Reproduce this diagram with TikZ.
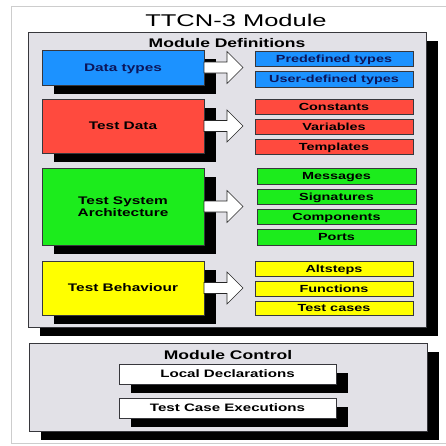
\documentclass[tikz,border=0pt]{standalone}
\usepackage{fontspec}
\setmainfont{Liberation Sans}
\newfontfamily\widesans[FakeStretch=1.4]{Liberation Sans}
\newfontfamily\titlesans[FakeStretch=1.5]{Liberation Sans}
\usetikzlibrary{shadows}

\definecolor{panelgray}{RGB}{226,225,231}
\definecolor{framegray}{RGB}{205,205,205}
\definecolor{dtblue}{RGB}{28,146,255}
\definecolor{navytext}{RGB}{12,22,90}
\definecolor{tdred}{RGB}{255,74,62}
\definecolor{tsagreen}{RGB}{28,236,28}
\definecolor{tbyellow}{RGB}{255,255,0}
\definecolor{edge}{RGB}{55,55,60}

\begin{document}
\begin{tikzpicture}[x=1pt,y=-1pt,
  blackshadow/.style={general shadow={fill=black, shadow xshift=#1, shadow yshift=-8.5pt}},
  blackshadow/.default=12pt,
  panel/.style={draw=edge, fill=panelgray, line width=0.6pt, anchor=north west,
    inner sep=0pt, outer sep=0pt, blackshadow},
  headfont/.style={font=\widesans\bfseries\fontsize{12.5}{14}\selectfont, inner sep=0pt,
    text height=9pt, text depth=0pt},
  mainbox/.style={draw=edge, line width=0.5pt, anchor=north west, minimum width=162pt,
    inner sep=0pt, outer sep=0pt, blackshadow, align=center,
    font=\widesans\bfseries\fontsize{11}{12.5}\selectfont},
  oneline/.style={text height=7.9pt, text depth=0pt},
  itembox/.style={draw=edge, line width=0.5pt, anchor=north west, minimum width=158pt,
    minimum height=15pt, inner sep=0pt, outer sep=0pt, text height=7.4pt, text depth=0pt,
    font=\widesans\bfseries\fontsize{10.3}{12}\selectfont},
  ctrlbox/.style={draw=edge, fill=white, line width=0.5pt, anchor=north west,
    minimum width=217pt, minimum height=20pt, inner sep=0pt, outer sep=0pt, blackshadow,
    text height=7.7pt, text depth=0pt,
    font=\widesans\bfseries\fontsize{10.8}{12}\selectfont},
  arrowshape/.style={draw=black!85, fill=white, line width=0.6pt, line join=miter}
]
\useasboundingbox (0,0) rectangle (446,445);
\fill[white] (0,0) rectangle (446,445);

% outer frame
\draw[framegray, line width=1pt] (460,6) -- (11,6) -- (11,443) -- (460,443);

% title
\node[font=\titlesans\fontsize{17}{19}\selectfont, inner sep=0pt, text height=12.2pt,
  text depth=0pt] (title) at (236,20) {TTCN-3 Module};

% module definitions panel
\node[panel, minimum width=398pt, minimum height=295pt] (defs) at (28,32) {};
\node[headfont] (defstitle) at (227,43) {Module Definitions};

% data types
\node[mainbox, oneline, fill=dtblue, text=navytext, minimum height=35pt] (dt) at (42,50) {Data types};
\node[itembox, fill=dtblue, text=navytext] (pre) at (255,51) {Predefined types};
\node[itembox, fill=dtblue, text=navytext, minimum height=16pt] (udt) at (255,71) {User-defined types};

% test data
\node[mainbox, oneline, fill=tdred, minimum height=54pt] (td) at (42,99) {Test Data};
\node[itembox, fill=tdred] (const) at (255,99) {Constants};
\node[itembox, fill=tdred] (vars) at (255,119) {Variables};
\node[itembox, fill=tdred] (tmpl) at (255,139) {Templates};

% test system architecture
\node[mainbox, fill=tsagreen, minimum height=77pt] (tsa) at (42,168) {Test System\\Architecture};
\node[itembox, fill=tsagreen, minimum width=159pt, minimum height=16pt] (msg) at (257,168) {Messages};
\node[itembox, fill=tsagreen, minimum width=159pt] (sig) at (257,189) {Signatures};
\node[itembox, fill=tsagreen, minimum width=159pt] (comp) at (257,209) {Components};
\node[itembox, fill=tsagreen, minimum width=159pt, minimum height=16pt] (ports) at (257,229) {Ports};

% test behaviour
\node[mainbox, oneline, fill=tbyellow, minimum height=54pt] (tb) at (42,261) {Test Behaviour};
\node[itembox, fill=tbyellow] (alt) at (255,261) {Altsteps};
\node[itembox, fill=tbyellow] (func) at (255,281) {Functions};
\node[itembox, fill=tbyellow, minimum height=14pt] (tc) at (255,301) {Test cases};

% block arrows from each category to its members
\foreach \src in {dt,td,tsa,tb}{
  \draw[arrowshape] (\src.east) ++(0,5.5) -- ++(23,0) -- ++(0,10.5) -- ++(16,-16)
    -- ++(-16,-16) -- ++(0,10.5) -- ++(-23,0) -- cycle;
}

% module control panel
\node[panel, minimum width=398pt, minimum height=88pt] (ctrl) at (29,343) {};
\node[headfont] (ctrltitle) at (228,355) {Module Control};
\node[ctrlbox] (locdecl) at (119,364) {Local Declarations};
\node[ctrlbox] (tcexec) at (119,398) {Test Case Executions};
\end{tikzpicture}
\end{document}
